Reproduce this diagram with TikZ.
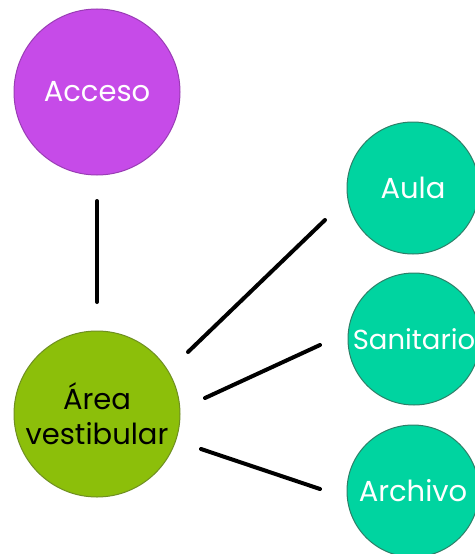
\documentclass[tikz,border=0pt]{standalone}
\usepackage{fontspec}
\setmainfont{Poppins}
\definecolor{purp}{HTML}{C64BE8}
\definecolor{purpb}{HTML}{9A3DB5}
\definecolor{lime}{HTML}{8CBF0A}
\definecolor{limeb}{HTML}{6F8F22}
\definecolor{teal}{HTML}{00D4A0}
\definecolor{tealb}{HTML}{2E7F68}
\begin{document}
\begin{tikzpicture}[x=1pt,y=-1pt,
  big/.style={circle,minimum size=166pt,inner sep=0pt,line width=1pt,align=center,font=\fontsize{29}{35}\selectfont},
  small/.style={circle,minimum size=132pt,inner sep=0pt,line width=1pt,draw=tealb,fill=teal,text=white,font=\fontsize{29}{35}\selectfont},
  conn/.style={line width=4pt,line cap=round,black}]
\useasboundingbox (0,0) rectangle (474,554);
\node[big,draw=purpb,fill=purp,text=white] (acc) at (97,92) {Acceso};
\node[big,draw=limeb,fill=lime,text=black] (ves) at (97,414) {Área\\vestibular};
\node[small] (aula) at (413,188) {Aula};
\node[small,font=\fontsize{27.5}{33}\selectfont] (san) at (414,339) {Sanitario};
\node[small] (arc) at (413,491) {Archivo};
\coordinate (a1) at (97,201);
\coordinate (a2) at (97,302);
\coordinate (b1) at (188,352);
\coordinate (b2) at (325,220);
\coordinate (c1) at (205,398);
\coordinate (c2) at (320,345);
\coordinate (d1) at (201,449);
\coordinate (d2) at (320,489);
\draw[conn] (a1) -- (a2);
\draw[conn] (b1) -- (b2);
\draw[conn] (c1) -- (c2);
\draw[conn] (d1) -- (d2);
\end{tikzpicture}
\end{document}
